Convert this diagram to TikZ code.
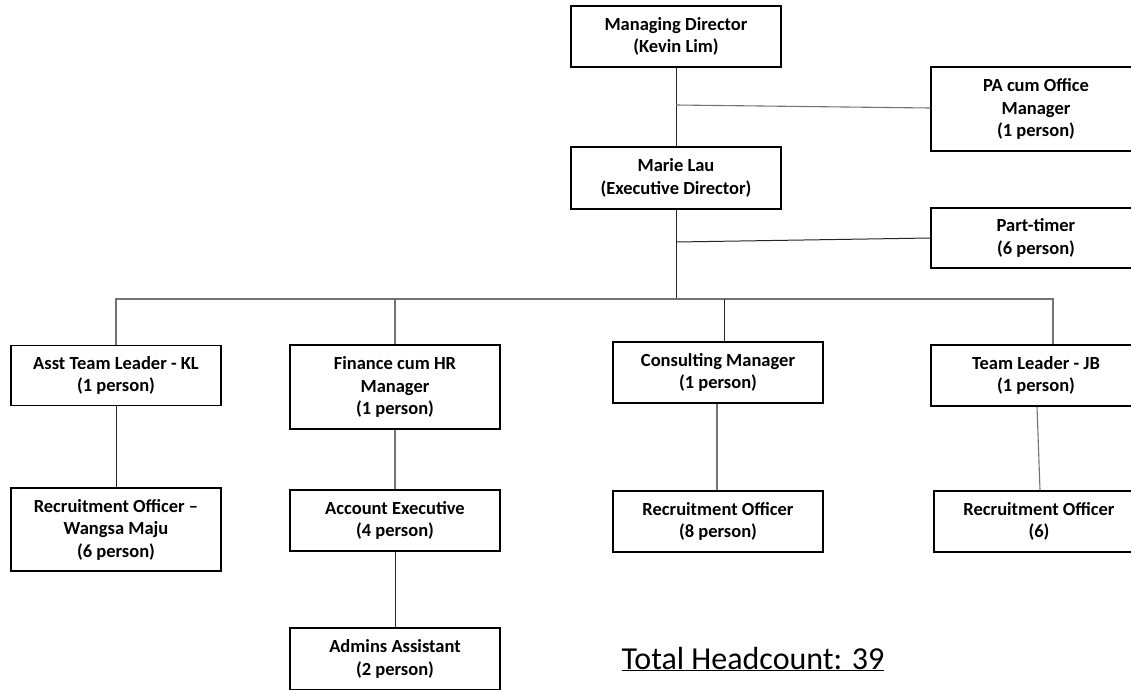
\documentclass[tikz,border=0pt]{standalone}
\usepackage{fontspec}
\setmainfont{Carlito}
\begin{document}
\begin{tikzpicture}[x=1pt,y=-1pt,
  box/.style={draw=black,line width=1.4pt,rectangle,align=center,inner sep=0pt,
    minimum width=210pt,font=\fontsize{18.5}{22.5}\selectfont\bfseries},
  conn/.style={draw=black!55,line width=1.1pt},
  connd/.style={draw=black!85,line width=1pt}]
\useasboundingbox (0,0) rectangle (1131,689);
% top
\node[box,minimum height=61pt] (md) at (676,36.5) {Managing Director\\(Kevin Lim)};
\node[box,minimum height=84pt] (pa) at (1036,109) {PA cum Office\\Manager\\(1 person)};
\node[box,minimum height=62pt] (ml) at (676,178) {Marie Lau\\(Executive Director)};
\node[box,minimum height=60pt] (pt) at (1036,238) {Part-timer\\(6 person)};
% level 2
\node[box,minimum height=60pt] (atl) at (116,375.5) {Asst Team Leader - KL\\(1 person)};
\node[box,minimum height=84pt] (fin) at (395,387) {Finance cum HR\\Manager\\(1 person)};
\node[box,minimum height=61pt] (con) at (718,372.5) {Consulting Manager\\(1 person)};
\node[box,minimum height=61pt] (tlj) at (1036,375.5) {Team Leader - JB\\(1 person)};
% level 3
\node[box,minimum height=83pt] (row) at (116,529.5) {Recruitment Officer --\\Wangsa Maju\\(6 person)};
\node[box,minimum height=61pt] (ae) at (395,520.5) {Account Executive\\(4 person)};
\node[box,minimum height=61pt] (ro8) at (718,521.5) {Recruitment Officer\\(8 person)};
\node[box,minimum height=61pt] (ro6) at (1039,521.5) {Recruitment Officer\\(6)};
% level 4
\node[box,minimum height=62pt] (adm) at (395,659) {Admins Assistant\\(2 person)};
% total
\node[anchor=base,inner sep=0pt,font=\fontsize{32}{38}\selectfont] (tot) at (753,669) {\underline{Total Headcount: 39}};
% connectors
\coordinate (j1) at (676,105);
\coordinate (j2) at (676,242);
\coordinate (bus) at (676,299);
\draw[connd] (md.south) -- (ml.north);
\draw[conn] (j1) -- ([yshift=1pt]pa.west);
\draw[connd] (j2) -- (pt.west);
\draw[connd] (ml.south) -- (bus);
\draw[conn] (atl.north) -- (atl.north |- bus) -- ([xshift=17pt]tlj.north |- bus) -- ([xshift=17pt]tlj.north);
\draw[conn] (fin.north) -- (fin.north |- bus);
\draw[connd] ([xshift=6pt]con.north) -- ([xshift=6pt]con.north |- bus);
\draw[connd] (atl.south) -- (row.north);
\draw[conn] (fin.south) -- (ae.north);
\draw[connd] (ae.south) -- (adm.north);
\draw[conn] ([xshift=-1pt]con.south) -- ([xshift=-1pt]ro8.north);
\draw[conn] ([xshift=1pt]tlj.south) -- ([xshift=1pt]ro6.north);
\end{tikzpicture}
\end{document}
